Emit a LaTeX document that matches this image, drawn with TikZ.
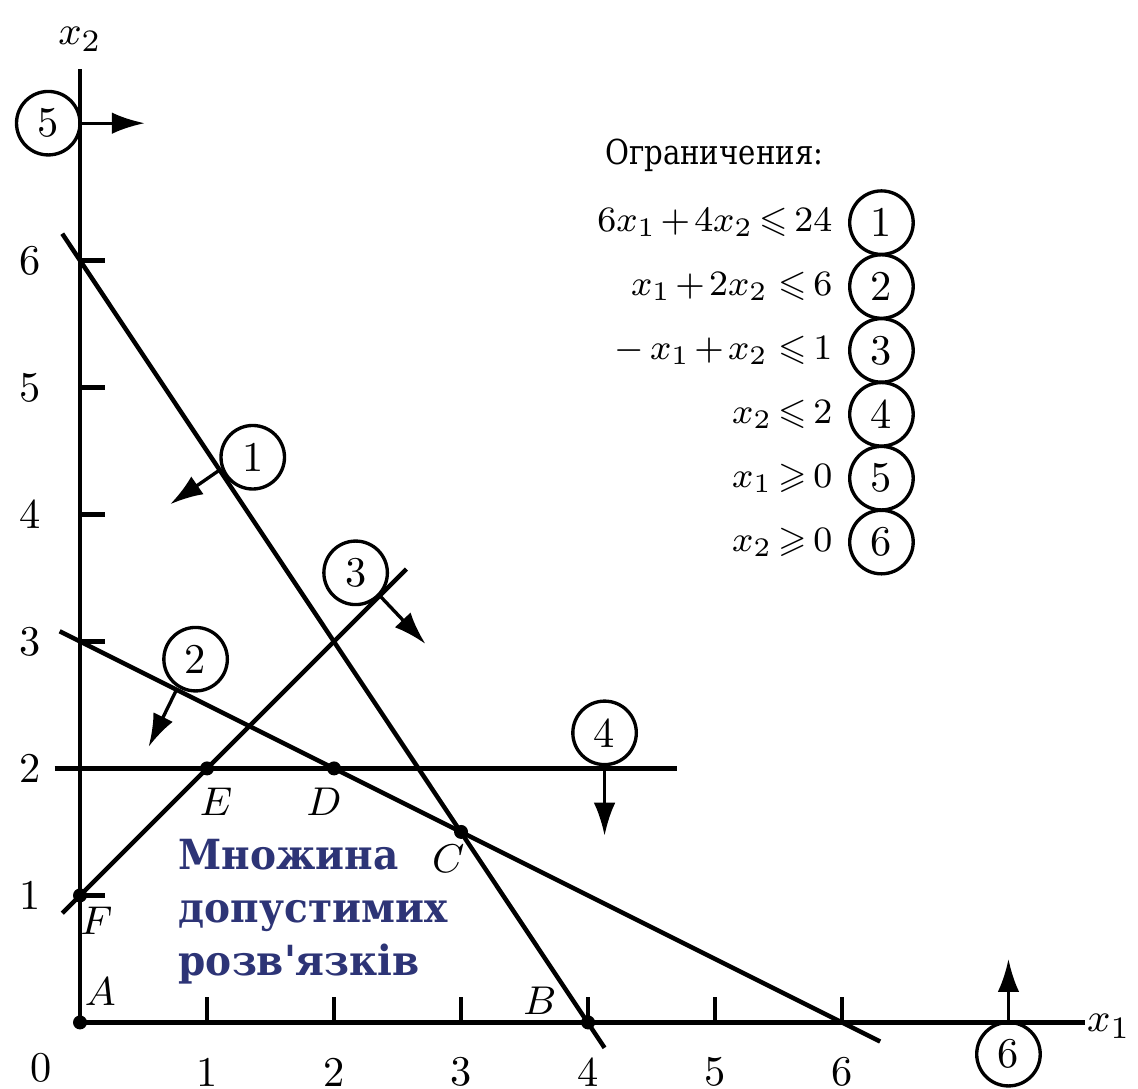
\documentclass[tikz,border=0pt]{standalone}
\usepackage{amssymb}
\usepackage{fontspec}
\newfontfamily\setfont{DejaVu Serif}
\usetikzlibrary{arrows.meta}
\usetikzlibrary{positioning}

\definecolor{setblue}{RGB}{45,52,118}
\newcommand{\setline}[1]{\scalebox{0.94}[1]{#1}}

\tikzset{
    lim/.style={line width=1pt},
    num/.style={draw, circle, line width=0.75pt, minimum size=0.5cm, inner sep=0pt},
    dir/.style={line width=0.75pt, -{Latex[length=2.6mm,width=1.7mm]}},
    vtx/.style={circle, fill, inner sep=0pt, minimum size=0.11cm},
}

\begin{document}
\begin{tikzpicture}[font=\fontsize{9.5}{11}\selectfont]
        \useasboundingbox (-0.63,-0.52) rectangle (8.33,8.05);
        % axes
        \coordinate (O) at (0,0);
        \coordinate (xend) at (7.91,0);
        \coordinate (yend) at (0,7.51);
        \draw[lim] (O) -- (xend);
        \draw[lim] (O) -- (yend);
        \node (xlab) at (8.1,-0.03) {$x_1$};
        \node (ylab) at (0,7.74) {$x_2$};
        \node (zero) at (-0.31,-0.36) {0};
        \foreach \i in {1,...,6} {
            \draw[lim] (\i,0) -- (\i,0.2);
            \draw[lim] (0,\i) -- (0.2,\i);
            \node (xt\i) at (\i,-0.39) {\i};
            \node (yt\i) at (-0.39,\i) {\i};
        }

        % constraint lines
        \coordinate (l1a) at (-0.14,6.21);
        \coordinate (l1b) at (4.13,-0.2);
        \coordinate (l2a) at (-0.16,3.08);
        \coordinate (l2b) at (6.3,-0.15);
        \coordinate (l3a) at (-0.14,0.86);
        \coordinate (l3b) at (2.57,3.57);
        \coordinate (l4a) at (-0.2,2);
        \coordinate (l4b) at (4.7,2);
        \draw[lim] (l1a) -- (l1b);
        \draw[lim] (l2a) -- (l2b);
        \draw[lim] (l3a) -- (l3b);
        \draw[lim] (l4a) -- (l4b);

        % corner points
        \node[vtx] (pA) at (0,0) {};
        \node[vtx] (pB) at (4,0) {};
        \node[vtx] (pC) at (3,1.5) {};
        \node[vtx] (pD) at (2,2) {};
        \node[vtx] (pE) at (1,2) {};
        \node[vtx] (pF) at (0,1) {};
        \node (lA) at (0.16,0.24) {$A$};
        \node (lB) at (3.62,0.17) {$B$};
        \node (lC) at (2.9,1.29) {$C$};
        \node (lD) at (1.92,1.74) {$D$};
        \node (lE) at (1.07,1.74) {$E$};
        \node (lF) at (0.13,0.8) {$F$};

        % constraint numbers and directions
        \node[num] (c1) at (1.36,4.45) {1};
        \node[num] (c2) at (0.91,2.86) {2};
        \node[num] (c3) at (2.17,3.54) {3};
        \node[num] (c4) at (4.13,2.28) {4};
        \node[num] (c5) at (-0.25,7.08) {5};
        \node[num] (c6) at (7.31,-0.25) {6};
        \coordinate (a1) at (1.1,4.35);
        \coordinate (b1) at (0.71,4.08);
        \coordinate (a2) at (0.76,2.62);
        \coordinate (b2) at (0.54,2.17);
        \coordinate (a3) at (2.36,3.36);
        \coordinate (b3) at (2.72,2.98);
        \coordinate (a4) at (4.13,2);
        \coordinate (b4) at (4.13,1.47);
        \coordinate (a5) at (0,7.08);
        \coordinate (b5) at (0.51,7.08);
        \coordinate (a6) at (7.31,0);
        \coordinate (b6) at (7.31,0.5);
        \foreach \k in {1,...,6} {
            \draw[dir] (a\k) -- (b\k);
        }

        % feasible set
        \node[anchor=west, inner sep=0pt, align=left, text=setblue,
              font=\setfont\bfseries\fontsize{9.3}{11.9}\selectfont] (feas) at (0.77,0.87)
              {\setline{Множина}\\\setline{допустимих}\\\setline{розв'язків}};

        % legend
        \node[anchor=west, font=\setfont\fontsize{7.7}{9}\selectfont] (title) at (4.01,6.83)
              {\scalebox{0.85}[1]{Ограничения:}};
        \foreach \i/\t in {1/{6x_1\mkern2mu{+}\mkern2mu4x_2\,{\leqslant}\,24},
                           2/{x_1\mkern2mu{+}\mkern2mu2x_2\;{\leqslant}\,6},
                           3/{-\,x_1\mkern2mu{+}\mkern2mu x_2\;{\leqslant}\,1},
                           4/{x_2\,{\leqslant}\,2},
                           5/{x_1\,{\geqslant}\,0},
                           6/{x_2\,{\geqslant}\,0}} {
            \node[num] (k\i) at (6.31,{6.80-0.503*\i}) {\i};
            \node[left=0pt of k\i, font=\fontsize{8.2}{10}\selectfont] (e\i) {$\t$};
        }
\end{tikzpicture}
\end{document}
